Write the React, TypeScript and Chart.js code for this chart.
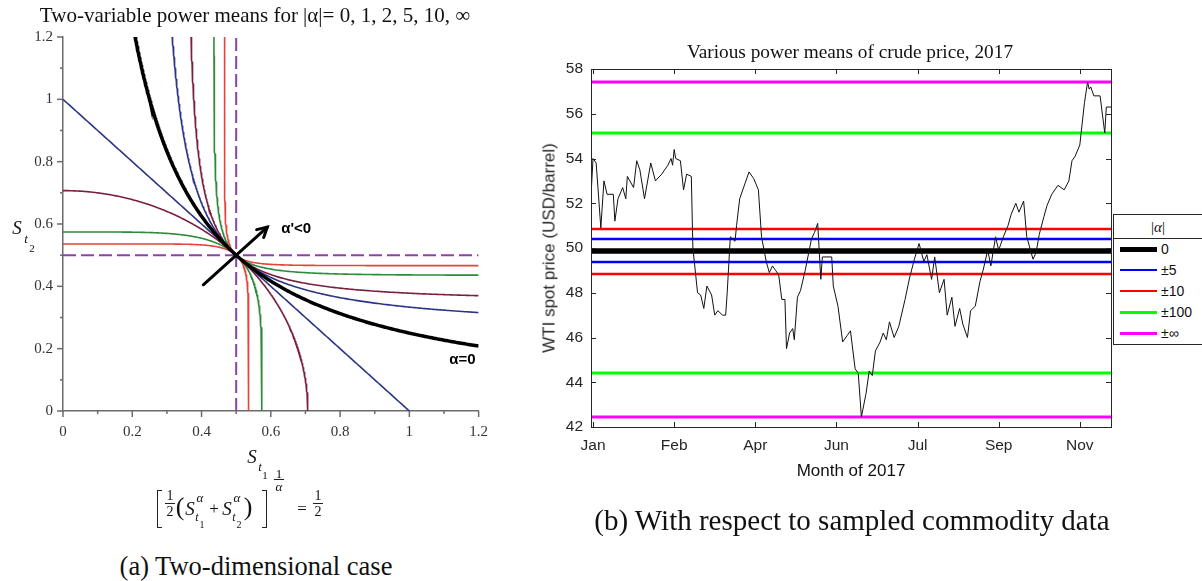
import React, { useEffect, useRef } from "react";
import { Chart, registerables } from "chart.js";

Chart.register(...registerables);

// ---------- (a) two-variable power means at level 1/2 ----------
const ALPHA_ORDERS = [1, 2, 5, 10];
const ALPHA_COLORS = ["#2c3585", "#7a1f3d", "#2e8b3a", "#e5443b"];
const ZERO_COLOR = "#000000";
const LIMIT_COLOR = "#8a44a8";
const MEAN_LEVEL = 0.5;
const UNIT_MIN = 0;
const UNIT_MAX = 1.2;
const UNIT_TICKS = [0, 0.2, 0.4, 0.6, 0.8, 1, 1.2];
const UNIT_MINOR = [0.1, 0.3, 0.5, 0.7, 0.9, 1.1];
const ARROW_FROM = 0.405;
const ARROW_TO = 0.59;

// ---------- (b) WTI spot price, 2017 ----------
const TRADE_DAYS = [
  3, 4, 6, 9, 11, 13, 17, 18, 20, 23, 25, 26, 30, 32, 34, 37, 41, 44, 48, 52,
  54, 55, 56, 57, 60, 62, 64, 67, 68, 71, 73, 75, 77, 80, 82, 84, 87, 89, 90, 92,
  95, 96, 98, 104, 107, 110, 112, 115, 117, 119, 121, 123, 125, 127, 128, 130, 132, 133, 135, 137,
  140, 144, 146, 148, 150, 151, 157, 158, 159, 161, 164, 167, 169, 172, 174, 176, 179, 181, 183, 185,
  188, 190, 192, 194, 197, 200, 204, 207, 210, 213, 216, 218, 221, 223, 226, 229, 231, 234, 236, 239,
  241, 244, 246, 249, 252, 254, 257, 259, 262, 264, 267, 270, 272, 275, 277, 280, 282, 284, 286, 288,
  290, 293, 295, 298, 302, 306, 309, 311, 313, 316, 319, 321, 322, 323, 325, 329, 332, 333, 336,
];
const WTI_PRICE = [
  52.7, 54.0, 53.8, 50.9, 53.0, 52.4, 52.4, 51.2, 52.2, 52.7, 52.2, 53.2, 52.7, 53.9, 53.5, 52.2, 53.8, 53.0, 53.3, 53.7,
  54.0, 53.7, 54.4, 54.0, 53.9, 52.6, 53.3, 53.2, 50.0, 48.0, 47.9, 47.3, 48.3, 47.9, 47.0, 47.2, 47.0, 47.0, 48.0, 50.5,
  50.3, 51.0, 52.2, 53.4, 53.1, 52.6, 50.5, 49.4, 48.9, 49.2, 49.0, 48.8, 47.7, 47.7, 45.5, 46.2, 46.4, 45.9, 47.8, 48.1,
  49.0, 50.4, 50.7, 51.1, 48.6, 49.6, 49.6, 48.3, 48.0, 47.4, 45.8, 46.1, 46.3, 44.6, 44.4, 42.45, 43.5, 44.5, 44.3, 45.4,
  45.8, 46.2, 45.9, 46.7, 46.0, 46.5, 47.7, 48.7, 49.5, 50.2, 49.4, 49.7, 48.6, 49.6, 48.0, 48.6, 47.0, 47.8, 46.5, 47.3,
  46.6, 46.0, 47.2, 47.4, 48.5, 49.0, 49.9, 49.2, 50.5, 49.9, 50.5, 51.0, 51.5, 52.0, 51.6, 52.1, 50.5, 50.0, 49.5, 49.8,
  50.6, 51.4, 51.9, 52.4, 52.8, 52.6, 53.0, 53.9, 54.1, 54.6, 56.5, 57.42, 57.1, 57.2, 56.8, 56.8, 55.14, 56.3, 56.3,
];
const MEAN_NAMES = ["0", "\u00b15", "\u00b110", "\u00b1100", "\u00b1\u221e"];
const MEAN_HIGH = [49.87, 50.4, 50.85, 55.14, 57.42];
const MEAN_LOW = [49.87, 49.37, 48.84, 44.41, 42.45];
const MEAN_COLORS = ["#000000", "#0000ff", "#ff0000", "#00ff00", "#ff00ff"];
const MEAN_WIDTHS = [5, 2.5, 2.5, 3, 3];
const DAY_MIN = 2.7;
const DAY_MAX = 336;
const MONTH_DAYS = [4, 56, 108, 160, 212, 264, 316];
const MONTH_NAMES = ["Jan", "Feb", "Apr", "Jun", "Jul", "Sep", "Nov"];
const PRICE_TICKS = [42, 44, 46, 48, 50, 52, 54, 56, 58];

const SERIF = "'Liberation Serif', 'Times New Roman', serif";
const SANS = "'Liberation Sans', Arial, sans-serif";

// Points of [1/2 (x^a + y^a)]^(1/a) = 1/2, one branch traced then mirrored across y = x.
function levelCurve(alpha: number) {
  const m = MEAN_LEVEL;
  const partner = (s: number) =>
    alpha === 0 ? (m * m) / s : Math.pow(2 * Math.pow(m, alpha) - Math.pow(s, alpha), 1 / alpha);
  const n = 160;
  const branch: { x: number; y: number }[] = [];
  if (alpha > 0) {
    for (let i = 0; i <= n; i++) {
      const s = (m * i) / n;
      branch.push({ x: s, y: partner(s) });
    }
    return branch.concat(branch.slice().reverse().map((p) => ({ x: p.y, y: p.x })));
  }
  for (let i = 0; i <= n; i++) {
    const s = m + ((1.3 - m) * i) / n;
    branch.push({ x: s, y: partner(s) });
  }
  return branch
    .slice()
    .reverse()
    .map((p) => ({ x: p.y, y: p.x }))
    .concat(branch);
}

const curveDecor = {
  id: "curveDecor",
  afterDraw(chart: any) {
    const { ctx } = chart;
    const x = chart.scales.x;
    const y = chart.scales.y;
    ctx.save();
    ctx.strokeStyle = "#6b6b6b";
    ctx.lineWidth = 1.5;
    const marks: [number, number][] = [
      ...UNIT_TICKS.map((v) => [v, 6] as [number, number]),
      ...UNIT_MINOR.map((v) => [v, 3] as [number, number]),
    ];
    for (const [v, len] of marks) {
      const px = x.getPixelForValue(v);
      ctx.beginPath();
      ctx.moveTo(px, y.bottom);
      ctx.lineTo(px, y.bottom + len);
      ctx.stroke();
      const py = y.getPixelForValue(v);
      ctx.beginPath();
      ctx.moveTo(x.left, py);
      ctx.lineTo(x.left - len, py);
      ctx.stroke();
    }
    // direction arrow for decreasing alpha
    const x0 = x.getPixelForValue(ARROW_FROM);
    const y0 = y.getPixelForValue(ARROW_FROM);
    const x1 = x.getPixelForValue(ARROW_TO);
    const y1 = y.getPixelForValue(ARROW_TO);
    ctx.strokeStyle = "#000";
    ctx.lineWidth = 3;
    ctx.lineCap = "round";
    ctx.beginPath();
    ctx.moveTo(x0, y0);
    ctx.lineTo(x1, y1);
    ctx.stroke();
    const ang = Math.atan2(y1 - y0, x1 - x0);
    const head = 11;
    ctx.beginPath();
    ctx.moveTo(x1 - head * Math.cos(ang - 0.5), y1 - head * Math.sin(ang - 0.5));
    ctx.lineTo(x1, y1);
    ctx.lineTo(x1 - head * Math.cos(ang + 0.5), y1 - head * Math.sin(ang + 0.5));
    ctx.stroke();
    ctx.fillStyle = "#000";
    ctx.font = "bold 15px " + SANS;
    ctx.textBaseline = "middle";
    ctx.textAlign = "left";
    ctx.fillText("\u03b1'<0", x.getPixelForValue(0.63), y.getPixelForValue(0.585));
    ctx.fillText("\u03b1=0", x.getPixelForValue(1.115), y.getPixelForValue(0.163));
    ctx.restore();
  },
};

const boxDecor = {
  id: "boxDecor",
  afterDatasetsDraw(chart: any) {
    const { ctx, chartArea: a } = chart;
    const x = chart.scales.x;
    const y = chart.scales.y;
    ctx.save();
    ctx.strokeStyle = "#262626";
    ctx.lineWidth = 1;
    ctx.strokeRect(Math.round(a.left) + 0.5, Math.round(a.top) + 0.5, Math.round(a.right - a.left), Math.round(a.bottom - a.top));
    const t = 5;
    for (const v of MONTH_DAYS) {
      const px = Math.round(x.getPixelForValue(v)) + 0.5;
      ctx.beginPath();
      ctx.moveTo(px, a.bottom);
      ctx.lineTo(px, a.bottom - t);
      ctx.moveTo(px, a.top);
      ctx.lineTo(px, a.top + t);
      ctx.stroke();
    }
    for (const v of PRICE_TICKS) {
      const py = Math.round(y.getPixelForValue(v)) + 0.5;
      ctx.beginPath();
      ctx.moveTo(a.left, py);
      ctx.lineTo(a.left + t, py);
      ctx.moveTo(a.right, py);
      ctx.lineTo(a.right - t, py);
      ctx.stroke();
    }
    ctx.restore();
  },
};

function Glyph(props: { x: number; y: number; size: number; italic?: boolean; font?: string; bold?: boolean; children: any }) {
  return (
    <div
      style={{
        position: "absolute",
        left: props.x,
        top: props.y,
        transform: "translate(-50%, -50%)",
        fontSize: props.size,
        lineHeight: 1,
        fontStyle: props.italic ? "italic" : "normal",
        fontWeight: props.bold ? "bold" : "normal",
        fontFamily: props.font || SERIF,
        whiteSpace: "nowrap",
        color: "#111",
      }}
    >
      {props.children}
    </div>
  );
}

export default function App() {
  const leftRef = useRef<HTMLCanvasElement>(null);
  const rightRef = useRef<HTMLCanvasElement>(null);

  useEffect(() => {
    const curves: any[] = [];
    curves.push({
      data: levelCurve(0),
      showLine: true,
      borderColor: ZERO_COLOR,
      borderWidth: 3.5,
      pointRadius: 0,
    });
    ALPHA_ORDERS.forEach((a, i) => {
      for (const sign of [1, -1]) {
        curves.push({
          data: levelCurve(sign * a),
          showLine: true,
          borderColor: ALPHA_COLORS[i],
          borderWidth: 1.6,
          pointRadius: 0,
        });
      }
    });
    curves.push({
      data: [
        { x: MEAN_LEVEL, y: UNIT_MIN },
        { x: MEAN_LEVEL, y: UNIT_MAX },
      ],
      showLine: true,
      borderColor: LIMIT_COLOR,
      borderWidth: 2,
      borderDash: [13, 5],
      pointRadius: 0,
    });
    curves.push({
      data: [
        { x: UNIT_MIN, y: MEAN_LEVEL },
        { x: UNIT_MAX, y: MEAN_LEVEL },
      ],
      showLine: true,
      borderColor: LIMIT_COLOR,
      borderWidth: 2,
      borderDash: [13, 5],
      pointRadius: 0,
    });

    const unitAxis = (isX: boolean) => ({
      type: "linear",
      min: UNIT_MIN,
      max: UNIT_MAX,
      afterBuildTicks: (s: any) => {
        s.ticks = UNIT_TICKS.map((v) => ({ value: v }));
      },
      afterFit: (s: any) => {
        if (isX) s.height = 59;
        else s.width = 63;
      },
      grid: { display: false, drawTicks: false },
      border: { display: true, color: "#6b6b6b", width: 1.5 },
      ticks: {
        padding: isX ? 12 : 10,
        color: "#333",
        font: { family: SERIF, size: 15 },
        maxRotation: 0,
        autoSkip: false,
        callback: (v: any) => String(v),
      },
    });

    const left = new Chart(leftRef.current as HTMLCanvasElement, {
      type: "scatter",
      data: { datasets: curves },
      options: {
        animation: false,
        responsive: false,
        events: [],
        layout: { padding: { top: 37, right: 19, left: 0, bottom: 0 } },
        plugins: { legend: { display: false }, tooltip: { enabled: false } },
        scales: { x: unitAxis(true) as any, y: unitAxis(false) as any },
      },
      plugins: [curveDecor],
    });

    const sets: any[] = [
      {
        data: TRADE_DAYS.map((d, i) => ({ x: d, y: WTI_PRICE[i] })),
        showLine: true,
        borderColor: "#111",
        borderWidth: 1,
        pointRadius: 0,
      },
    ];
    MEAN_NAMES.forEach((_, i) => {
      for (const v of [MEAN_HIGH[i], MEAN_LOW[i]]) {
        sets.push({
          data: [
            { x: DAY_MIN, y: v },
            { x: DAY_MAX, y: v },
          ],
          showLine: true,
          borderColor: MEAN_COLORS[i],
          borderWidth: MEAN_WIDTHS[i],
          pointRadius: 0,
        });
      }
    });

    const right = new Chart(rightRef.current as HTMLCanvasElement, {
      type: "scatter",
      data: { datasets: sets },
      options: {
        animation: false,
        responsive: false,
        events: [],
        layout: { padding: { top: 69, right: 91, left: 0, bottom: 0 } },
        plugins: { legend: { display: false }, tooltip: { enabled: false } },
        scales: {
          x: {
            type: "linear",
            min: DAY_MIN,
            max: DAY_MAX,
            afterBuildTicks: (s: any) => {
              s.ticks = MONTH_DAYS.map((v) => ({ value: v }));
            },
            afterFit: (s: any) => {
              s.height = 154;
            },
            grid: { display: false, drawTicks: false },
            border: { display: false },
            ticks: {
              padding: 9,
              color: "#262626",
              font: { family: SANS, size: 15.5 },
              maxRotation: 0,
              autoSkip: false,
              callback: (_v: any, i: number) => MONTH_NAMES[i],
            },
          },
          y: {
            type: "linear",
            min: PRICE_TICKS[0],
            max: PRICE_TICKS[PRICE_TICKS.length - 1],
            afterBuildTicks: (s: any) => {
              s.ticks = PRICE_TICKS.map((v) => ({ value: v }));
            },
            afterFit: (s: any) => {
              s.width = 91;
            },
            grid: { display: false, drawTicks: false },
            border: { display: false },
            ticks: {
              padding: 8,
              color: "#262626",
              font: { family: SANS, size: 15.5 },
              callback: (v: any) => String(v),
            },
          },
        },
      },
      plugins: [boxDecor],
    });

    return () => {
      left.destroy();
      right.destroy();
    };
  }, []);

  const legendRows = [249, 270, 291, 312, 333];

  return (
    <div
      style={{
        position: "absolute",
        left: 0,
        top: 0,
        width: 1202,
        height: 581,
        overflow: "hidden",
        background: "#fff",
        fontFamily: SERIF,
      }}
    >
      <canvas ref={leftRef} width={500} height={470} style={{ position: "absolute", left: 0, top: 0, width: 500, height: 470 }} />
      <canvas ref={rightRef} width={702} height={581} style={{ position: "absolute", left: 500, top: 0, width: 702, height: 581 }} />

      {/* panel (a) texts */}
      <Glyph x={255} y={15} size={21}>
        Two-variable power means for |{"\u03b1"}|= 0, 1, 2, 5, 10, {"\u221e"}
      </Glyph>
      <Glyph x={17} y={227} size={19} italic>S</Glyph>
      <Glyph x={26} y={238} size={13} italic>t</Glyph>
      <Glyph x={32} y={248} size={11}>2</Glyph>
      <Glyph x={252} y={456} size={19} italic>S</Glyph>
      <Glyph x={260} y={466} size={13} italic>t</Glyph>
      <Glyph x={265} y={475} size={11}>1</Glyph>

      {/* defining equation */}
      <div style={{ position: "absolute", left: 157, top: 490, width: 4, height: 36, borderLeft: "1.3px solid #222", borderTop: "1.3px solid #222", borderBottom: "1.3px solid #222" }} />
      <Glyph x={170} y={496} size={14}>1</Glyph>
      <div style={{ position: "absolute", left: 165, top: 503, width: 10, height: 1, background: "#222" }} />
      <Glyph x={170} y={512} size={14}>2</Glyph>
      <Glyph x={180} y={507} size={26}>(</Glyph>
      <Glyph x={190} y={508} size={19} italic>S</Glyph>
      <Glyph x={200} y={497} size={13} italic>{"\u03b1"}</Glyph>
      <Glyph x={197} y={517} size={12} italic>t</Glyph>
      <Glyph x={202} y={525} size={10}>1</Glyph>
      <Glyph x={214} y={508} size={17}>+</Glyph>
      <Glyph x={227} y={508} size={19} italic>S</Glyph>
      <Glyph x={237} y={497} size={13} italic>{"\u03b1"}</Glyph>
      <Glyph x={234} y={517} size={12} italic>t</Glyph>
      <Glyph x={239} y={525} size={10}>2</Glyph>
      <Glyph x={248} y={507} size={26}>)</Glyph>
      <div style={{ position: "absolute", left: 262, top: 490, width: 4, height: 36, borderRight: "1.3px solid #222", borderTop: "1.3px solid #222", borderBottom: "1.3px solid #222" }} />
      <Glyph x={279} y={473} size={13}>1</Glyph>
      <div style={{ position: "absolute", left: 274, top: 479, width: 10, height: 1, background: "#222" }} />
      <Glyph x={279} y={486} size={13} italic>{"\u03b1"}</Glyph>
      <Glyph x={302} y={508} size={17}>=</Glyph>
      <Glyph x={318} y={496} size={14}>1</Glyph>
      <div style={{ position: "absolute", left: 313, top: 503, width: 10, height: 1, background: "#222" }} />
      <Glyph x={318} y={512} size={14}>2</Glyph>

      <Glyph x={256} y={566} size={26.5}>(a) Two-dimensional case</Glyph>

      {/* panel (b) texts */}
      <Glyph x={850} y={52} size={19.3}>Various power means of crude price, 2017</Glyph>
      <div
        style={{
          position: "absolute",
          left: 549,
          top: 248,
          transform: "translate(-50%, -50%) rotate(-90deg)",
          fontFamily: SANS,
          fontSize: 17,
          lineHeight: 1,
          whiteSpace: "nowrap",
          color: "#262626",
        }}
      >
        WTI spot price (USD/barrel)
      </div>
      <Glyph x={851} y={470} size={17} font={SANS}>Month of 2017</Glyph>
      <Glyph x={852} y={520} size={29}>(b) With respect to sampled commodity data</Glyph>

      {/* legend of the mean orders */}
      <div style={{ position: "absolute", left: 1113, top: 214, width: 120, height: 129, border: "1px solid #262626", background: "#fff" }} />
      <div style={{ position: "absolute", left: 1113, top: 238, width: 120, height: 1, background: "#262626" }} />
      <Glyph x={1158} y={227} size={15}>|<i>{"\u03b1"}</i>|</Glyph>
      {MEAN_NAMES.map((name, i) => (
        <React.Fragment key={name}>
          <div
            style={{
              position: "absolute",
              left: 1120,
              top: legendRows[i] - MEAN_WIDTHS[i] / 2,
              width: 37,
              height: MEAN_WIDTHS[i],
              background: MEAN_COLORS[i],
            }}
          />
          <div
            style={{
              position: "absolute",
              left: 1161,
              top: legendRows[i],
              transform: "translateY(-50%)",
              fontFamily: SANS,
              fontSize: 14,
              lineHeight: 1,
              color: "#111",
              whiteSpace: "nowrap",
            }}
          >
            {name}
          </div>
        </React.Fragment>
      ))}
    </div>
  );
}
